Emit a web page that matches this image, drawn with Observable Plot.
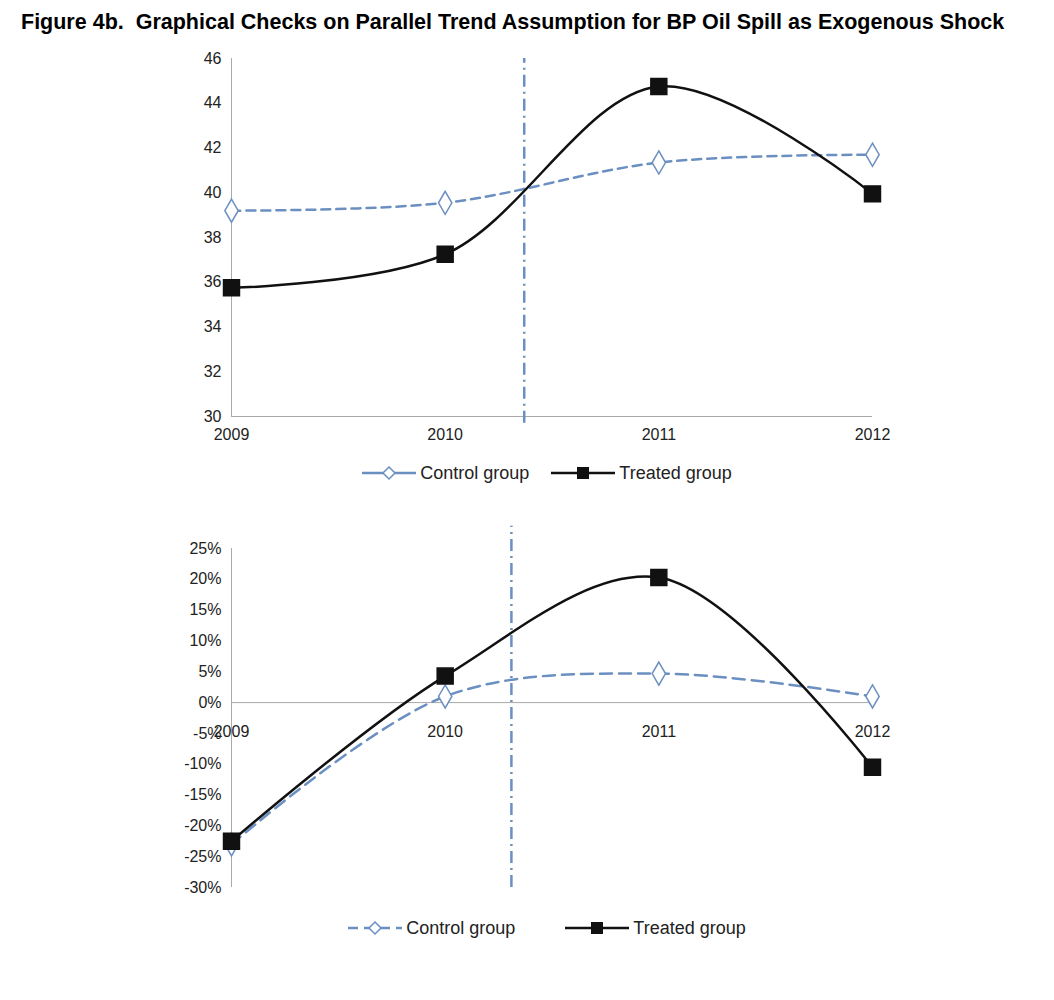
<!DOCTYPE html>
<html><head><meta charset="utf-8">
<script src="https://cdn.jsdelivr.net/npm/d3@7"></script>
<script src="https://cdn.jsdelivr.net/npm/@observablehq/plot@0.6"></script>
<style>
body{margin:0;font-family:"Liberation Sans",Arial,sans-serif;background:#fff;width:1054px}
h1{font-size:21.5px;font-weight:bold;margin:0;padding:10px 0 0 21px;height:43px;box-sizing:border-box;white-space:nowrap}
.leg{display:flex;justify-content:center;gap:22px;font-size:18px;color:#222;align-items:center;height:30px;padding-left:40px}
.leg span{display:flex;align-items:center;gap:4px}
</style></head><body>
<h1>Figure 4b.&nbsp; Graphical Checks on Parallel Trend Assumption for BP Oil Spill as Exogenous Shock</h1>
<div id="c1"></div>
<div class="leg" id="l1"></div>
<div id="c2"></div>
<div class="leg" id="l2"></div>
<script>
const years = [2009, 2010, 2011, 2012]
const controlLevel = [39.2, 39.55, 41.35, 41.7]
const treatedLevel = [35.75, 37.25, 44.75, 39.95]
const controlGrowth = [-0.23, 0.01, 0.047, 0.01]
const treatedGrowth = [-0.225, 0.043, 0.203, -0.105]
const shock1 = 2010.37
const shock2 = 2010.31
const blue = '#6a8fc0'
const ink = '#111'

function rows(vals) { return years.map((y, i) => ({year: y, v: vals[i]})) }

const chartLevel = Plot.plot({
  width: 1054, height: 415, marginLeft: 231, marginRight: 182, marginTop: 15, marginBottom: 42,
  style: {fontSize: '16px', fontFamily: 'Liberation Sans, Arial, sans-serif', color: '#222'},
  x: {domain: [2009, 2012], ticks: years, tickFormat: d => String(d), tickSize: 0, tickPadding: 12, label: null},
  y: {domain: [30, 46], ticks: d3.range(30, 47, 2), tickSize: 0, tickPadding: 10, label: null},
  marks: [
    Plot.ruleX([2009], {stroke: '#aaa'}),
    Plot.ruleY([30], {stroke: '#aaa'}),
    Plot.ruleX([shock1], {y1: 29.7, y2: 46, stroke: blue, strokeWidth: 2.5, strokeDasharray: '12,5,2,5'}),
    Plot.line(rows(controlLevel), {x: 'year', y: 'v', curve: 'catmull-rom', stroke: blue, strokeWidth: 2.5, strokeDasharray: '9,6'}),
    Plot.line(rows(treatedLevel), {x: 'year', y: 'v', curve: 'catmull-rom', stroke: ink, strokeWidth: 2.5}),
    Plot.dot(rows(controlLevel), {x: 'year', y: 'v', symbol: 'diamond', r: 7, fill: 'white', stroke: blue, strokeWidth: 1.5}),
    Plot.dot(rows(treatedLevel), {x: 'year', y: 'v', symbol: 'square', r: 9, fill: ink, stroke: ink})
  ]
})
document.getElementById('c1').append(chartLevel)

const chartGrowth = Plot.plot({
  width: 1054, height: 425, marginLeft: 231, marginRight: 182, marginTop: 60, marginBottom: 26,
  style: {fontSize: '16px', fontFamily: 'Liberation Sans, Arial, sans-serif', color: '#222'},
  x: {domain: [2009, 2012], axis: null},
  y: {domain: [-0.30, 0.25], ticks: d3.range(-0.30, 0.2501, 0.05), tickFormat: d => Math.round(d * 100) + '%', tickSize: 0, tickPadding: 10, label: null},
  marks: [
    Plot.ruleX([2009], {y1: -0.30, y2: 0.25, stroke: '#aaa'}),
    Plot.ruleY([0], {stroke: '#aaa'}),
    Plot.text(years, {x: d => d, y: 0, text: d => String(d), dy: 29, fontSize: 16}),
    Plot.ruleX([shock2], {y1: -0.30, y2: 0.286, stroke: blue, strokeWidth: 2.5, strokeDasharray: '12,5,2,5'}),
    Plot.line(rows(controlGrowth), {x: 'year', y: 'v', curve: 'catmull-rom', stroke: blue, strokeWidth: 2.5, strokeDasharray: '12,7'}),
    Plot.line(rows(treatedGrowth), {x: 'year', y: 'v', curve: 'catmull-rom', stroke: ink, strokeWidth: 2.5}),
    Plot.dot(rows(controlGrowth), {x: 'year', y: 'v', symbol: 'diamond', r: 7, fill: 'white', stroke: blue, strokeWidth: 1.5}),
    Plot.dot(rows(treatedGrowth), {x: 'year', y: 'v', symbol: 'square', r: 9, fill: ink, stroke: ink})
  ]
})
document.getElementById('c2').append(chartGrowth)

function legend(id, dashed, gap) {
  const el = document.getElementById(id)
  el.style.gap = gap + 'px'
  const cdash = dashed ? 'stroke-dasharray="10,6"' : ''
  el.innerHTML =
    `<span><svg width="54" height="16"><line x1="0" y1="8" x2="54" y2="8" stroke="${blue}" stroke-width="2.5" ${cdash}/><path d="M27 2 L33 8 L27 14 L21 8 Z" fill="white" stroke="${blue}" stroke-width="1.5"/></svg>Control group</span>` +
    `<span><svg width="64" height="16"><line x1="0" y1="8" x2="64" y2="8" stroke="${ink}" stroke-width="2.5"/><rect x="26" y="2" width="12" height="12" fill="${ink}"/></svg>Treated group</span>`
}
legend('l1', false, 22)
legend('l2', true, 50)
</script>
</body></html>
